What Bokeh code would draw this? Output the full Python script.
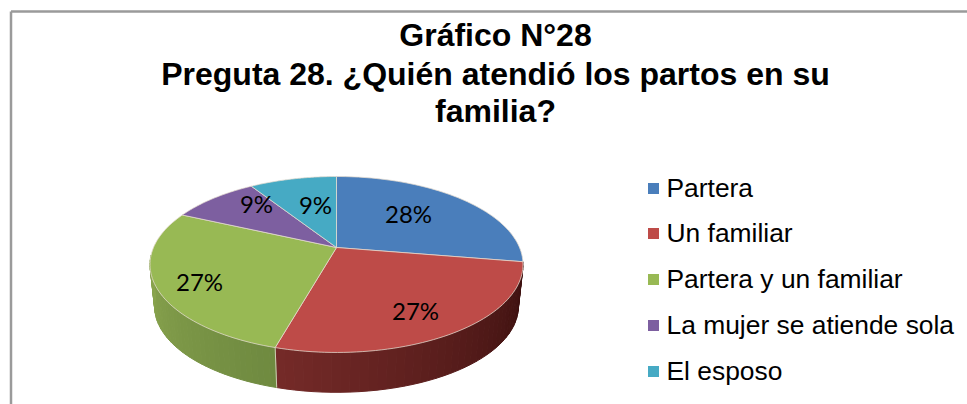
import math
from bokeh.plotting import figure
from bokeh.models import Range1d
from bokeh.core.properties import value
from bokeh.embed import file_html
from bokeh.resources import INLINE

categories = ["Partera", "Un familiar", "Partera y un familiar", "La mujer se atiende sola", "El esposo"]
values = [27.6, 26.8, 27.4, 9.1, 9.1]
pct_labels = ["28%", "27%", "27%", "9%", "9%"]
colors = ["#4a7ebb", "#be4b48", "#98b954", "#7d5fa0", "#46aac4"]
title_lines = ["Gráfico N°28", "Preguta 28. ¿Quién atendió los partos en su", "familia?"]

W, H = 967, 404
p = figure(width=W, height=H, output_backend="svg", toolbar_location=None,
           x_range=Range1d(0, W), y_range=Range1d(H, 0),
           min_border=0, outline_line_color=None)
p.axis.visible = False
p.grid.visible = False
p.background_fill_color = "white"
p.border_fill_color = "white"

# Frame
p.line([10.5, 10.5], [H, 11], line_color="#9a9a9a", line_width=2.5)
p.line([10.5, W], [11, 11], line_color="#9a9a9a", line_width=2.5)

# Perspective pie geometry
CX, CY, RX, K, C = 336.0, 247.0, 183.0, 84.7, 0.193
DEPTH, BOT_SCALE = 42.5, 0.975

def rim(theta_deg, f=1.0):
    t = math.radians(theta_deg)
    u, v = f * math.sin(t), -f * math.cos(t)
    d = 1 - C * v
    return CX + RX * u / d, CY + K * v / d

def rim_bottom(theta_deg):
    x, y = rim(theta_deg)
    return CX + (x - CX) * BOT_SCALE, CY + DEPTH + (y - CY) * BOT_SCALE

total = sum(values)
edges = [0.0]
for val in values:
    edges.append(edges[-1] + 360.0 * val / total)

def mix(a, b, t):
    ca = [int(a[i:i + 2], 16) for i in (1, 3, 5)]
    cb = [int(b[i:i + 2], 16) for i in (1, 3, 5)]
    return "#%02x%02x%02x" % tuple(round(x + (y - x) * t) for x, y in zip(ca, cb))

# Side wall, shaded in narrow strips
side_shades = {1: ("#3a0f0e", "#742a28"), 2: ("#6f8a40", "#8aa54e")}
LEFT_LIMIT = 265.0
xs, ys, cs = [], [], []
for i, (c0, c1) in side_shades.items():
    a0, a1 = edges[i], min(edges[i + 1], LEFT_LIMIT)
    n = 40
    for j in range(n):
        t0 = a0 + (a1 - a0) * j / n
        t1 = a0 + (a1 - a0) * (j + 1) / n
        A, B, D, E = rim(t0), rim(t1), rim_bottom(t1), rim_bottom(t0)
        xs.append([A[0], B[0], D[0], E[0]])
        ys.append([A[1], B[1], D[1], E[1]])
        cs.append(mix(c0, c1, j / (n - 1)))
p.patches(xs, ys, fill_color=cs, line_color=cs, line_width=1)

# Top faces
for i, col in enumerate(colors):
    steps = 60
    pts = [rim(edges[i] + (edges[i + 1] - edges[i]) * s / steps) for s in range(steps + 1)]
    px = [CX] + [q[0] for q in pts]
    py = [CY] + [q[1] for q in pts]
    p.patch(px, py, fill_color=col, line_color="#e6dcd0", line_width=1, line_alpha=0.75)

# Seam between the front side walls
a = rim(edges[2]); b = rim_bottom(edges[2])
p.line([a[0], b[0]], [a[1], b[1]], line_color="#e6dcd0", line_width=1, line_alpha=0.8)

# Percent labels
label_x = [408, 415, 199, 256, 315]
label_y = [213, 310, 281, 203, 204]
p.text(label_x, label_y, text=pct_labels, text_font=value("Lato"), text_font_size="24px",
       text_color="#000000", text_align="center", text_baseline="middle")

# Title
p.text([495, 495, 495], [34, 73, 110], text=title_lines, text_font=value("Liberation Sans"),
       text_font_style="bold", text_font_size="32px", text_color="#000000",
       text_align="center", text_baseline="middle")

# Legend
leg_y = [187, 232, 278, 324, 370]
p.scatter([653] * 5, [188, 233, 279, 325, 371], marker="square", size=11, fill_color=colors, line_color=None)
p.text([666] * 5, leg_y, text=categories, text_font=value("Liberation Sans"),
       text_font_size="26.4px", text_color="#000000", text_align="left", text_baseline="middle")

open("out.html", "w").write(file_html(p, INLINE))
